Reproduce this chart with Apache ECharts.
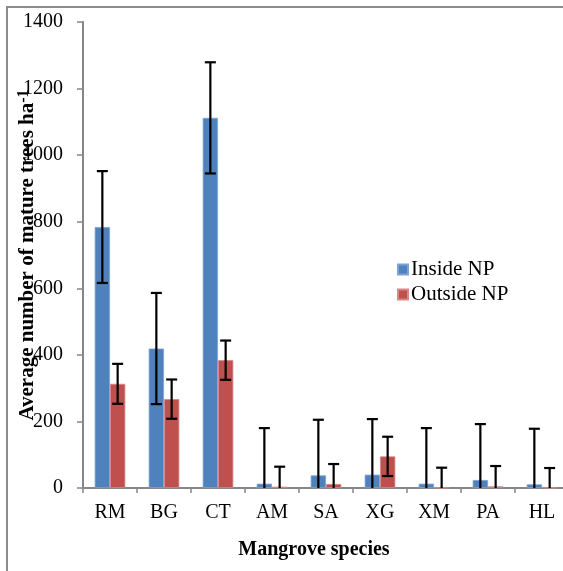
<!DOCTYPE html>
<html>
<head>
<meta charset="utf-8">
<style>
  html, body { margin: 0; padding: 0; background: #fff; }
  #chart { width: 563px; height: 571px; }
</style>
<script src="https://cdn.jsdelivr.net/npm/echarts@6/dist/echarts.min.js"></script>
</head>
<body>
<div id="chart"></div>
<script>
// Mature mangrove tree density by species, inside vs outside the national park
const species = ['RM', 'BG', 'CT', 'AM', 'SA', 'XG', 'XM', 'PA', 'HL'];
const insideNP = [784, 419, 1112, 13, 38, 40, 13, 24, 11];
const outsideNP = [313, 267, 384, 4, 12, 95, 1, 5, 1];
const insideErr = [168, 167, 167, 167, 167, 167, 167, 168, 167];
const outsideErr = [60, 59, 59, 60, 60, 59, 60, 61, 59];
const yTicks = [0, 200, 400, 600, 800, 1000, 1200, 1400];

const FONT = '"Liberation Serif", "Times New Roman", serif';
const BAR_W = 15.3;

// [category index, low, high] rows for the error bars
function errRows(vals, errs) {
  return vals.map((v, i) => [i, v - errs[i], v + errs[i]]);
}

function errorBarRenderer(offset) {
  return function (params, api) {
    const i = api.value(0);
    const lo = api.coord([i, api.value(1)]);
    const hi = api.coord([i, api.value(2)]);
    const x = lo[0] + offset;
    const cap = 5.5;
    const style = { stroke: '#000', lineWidth: 2.2 };
    return {
      type: 'group',
      children: [
        { type: 'line', shape: { x1: x, y1: lo[1], x2: x, y2: hi[1] }, style },
        { type: 'line', shape: { x1: x - cap, y1: hi[1], x2: x + cap, y2: hi[1] }, style },
        { type: 'line', shape: { x1: x - cap, y1: lo[1], x2: x + cap, y2: lo[1] }, style }
      ]
    };
  };
}

const chart = echarts.init(document.getElementById('chart'), null, { renderer: 'canvas' });

chart.setOption({
  animation: false,
  textStyle: { fontFamily: FONT },
  graphic: [
    {
      type: 'rect',
      shape: { x: 7, y: 7, width: 700, height: 700 },
      style: { fill: 'none', stroke: '#8c8c8c', lineWidth: 2 },
      silent: true
    },
    {
      type: 'text',
      x: 314, y: 550,
      style: {
        text: 'Mangrove species',
        font: 'bold 20px ' + FONT,
        fill: '#000',
        textAlign: 'center',
        textVerticalAlign: 'middle'
      }
    }
  ],
  grid: { left: 83, top: 22, width: 486, height: 466, containLabel: false, outerBoundsMode: 'none' },
  legend: {
    orient: 'vertical',
    left: 397,
    top: 259,
    padding: 0,
    itemWidth: 10,
    itemHeight: 10,
    itemGap: 4,
    icon: 'rect',
    textStyle: { fontFamily: FONT, fontSize: 21, color: '#000', padding: [0, 0, 0, -2] },
    data: ['Inside NP', 'Outside NP']
  },
  xAxis: {
    type: 'category',
    data: species,
    axisLine: { lineStyle: { color: '#868686', width: 2 } },
    axisTick: { show: true, length: 5, lineStyle: { color: '#868686', width: 1.5 } },
    axisLabel: { color: '#000', fontFamily: FONT, fontSize: 20, margin: 15 }
  },
  yAxis: {
    type: 'value',
    min: 0,
    max: 1400,
    interval: 200,
    name: 'Average number of mature trees ha{sup|-1}',
    nameLocation: 'middle',
    nameRotate: 90,
    nameGap: 43,
    nameMoveOverlap: false,
    nameTextStyle: {
      fontFamily: FONT, fontSize: 21, fontWeight: 'bold', color: '#000',
      rich: { sup: { fontFamily: FONT, fontSize: 16, fontWeight: 'bold', padding: [0, 0, 8, 0] } }
    },
    axisLine: { show: true, lineStyle: { color: '#868686', width: 2 } },
    axisTick: { show: true, length: 6, lineStyle: { color: '#868686', width: 1.5 } },
    axisLabel: {
      color: '#000', fontFamily: FONT, fontSize: 20, margin: 20,
      formatter: v => (yTicks.includes(v) ? String(v) : '')
    },
    splitLine: { show: false }
  },
  series: [
    {
      name: 'Inside NP',
      type: 'bar',
      data: insideNP,
      barWidth: BAR_W,
      barGap: '0%',
      itemStyle: { color: '#4F81BD', borderColor: '#7EA3D3', borderWidth: 0.8 }
    },
    {
      name: 'Outside NP',
      type: 'bar',
      data: outsideNP,
      barWidth: BAR_W,
      barGap: '0%',
      itemStyle: { color: '#C0504D', borderColor: '#D88886', borderWidth: 0.8 }
    },
    {
      type: 'custom',
      name: 'Inside NP error',
      renderItem: errorBarRenderer(-BAR_W / 2),
      data: errRows(insideNP, insideErr),
      clip: true,
      z: 10,
      silent: true
    },
    {
      type: 'custom',
      name: 'Outside NP error',
      renderItem: errorBarRenderer(BAR_W / 2),
      data: errRows(outsideNP, outsideErr),
      clip: true,
      z: 10,
      silent: true
    }
  ]
});
</script>
</body>
</html>
